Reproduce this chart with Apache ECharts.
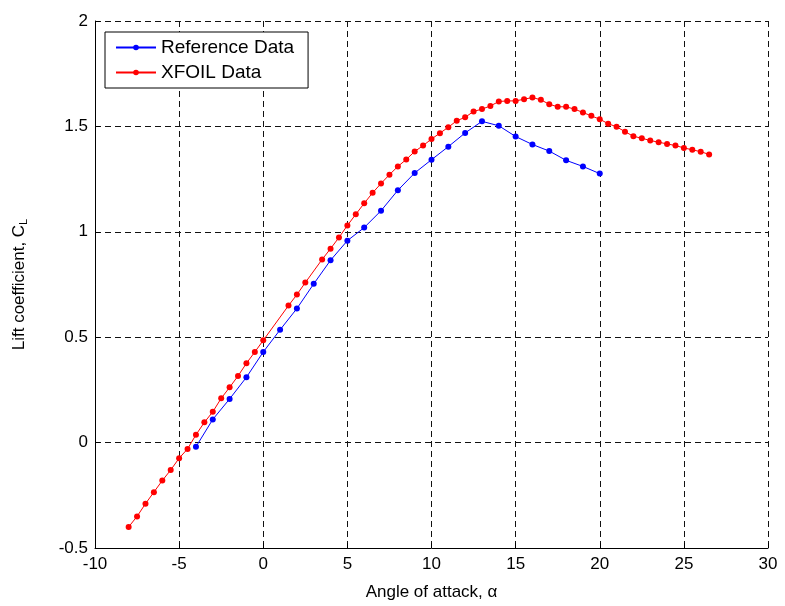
<!DOCTYPE html>
<html>
<head>
<meta charset="utf-8">
<script src="https://cdn.jsdelivr.net/npm/echarts@6/dist/echarts.min.js"></script>
<style>
  html, body { margin: 0; padding: 0; background: #fff; }
  #chart { width: 785px; height: 606px; }
</style>
</head>
<body>
<div id="chart"></div>
<script>
// Reference data (blue), every 1 degree
const refAlpha = [-4, -3, -2, -1, 0, 1, 2, 3, 4, 5, 6, 7, 8, 9, 10, 11, 12, 13, 14, 15, 16, 17, 18, 19, 20];
const refCl = [-0.02, 0.11, 0.207, 0.31, 0.43, 0.535, 0.636, 0.753, 0.865, 0.958, 1.02, 1.10, 1.197, 1.279, 1.342,
    1.404, 1.469, 1.524, 1.503, 1.452, 1.414, 1.383, 1.339, 1.31, 1.276];

// XFOIL data (red), half degree steps with a few missing points
const xfoilAlpha = [-8, -7.5, -7, -6.5, -6, -5.5, -5, -4.5, -4, -3.5, -3, -2.5, -2, -1.5, -1, -0.5, 0,
    1.5, 2, 2.5, 3.5, 4, 4.5, 5, 5.5, 6, 6.5, 7, 7.5, 8, 8.5, 9, 9.5, 10, 10.5, 11, 11.5, 12, 12.5, 13, 13.5,
    14, 14.5, 15, 15.5, 16, 16.5, 17, 17.5, 18, 18.5, 19, 19.5, 20, 20.5, 21, 21.5, 22, 22.5, 23, 23.5,
    24, 24.5, 25, 25.5, 26, 26.5];
const xfoilCl = [-0.40, -0.35, -0.29, -0.235, -0.18, -0.13, -0.074, -0.03, 0.037, 0.096, 0.146, 0.21, 0.262, 0.316, 0.376, 0.43, 0.485,
    0.65, 0.702, 0.759, 0.869, 0.92, 0.973, 1.03, 1.083, 1.135, 1.185, 1.229, 1.271, 1.31, 1.343, 1.381, 1.409, 1.44, 1.468, 1.496, 1.527, 1.543, 1.571, 1.582, 1.597,
    1.618, 1.621, 1.621, 1.629, 1.637, 1.626, 1.605, 1.593, 1.593, 1.582, 1.566, 1.55, 1.534, 1.513, 1.498, 1.475, 1.453, 1.444, 1.433, 1.425,
    1.417, 1.409, 1.398, 1.389, 1.38, 1.367];

const xTicks = { min: -10, max: 30, interval: 5 };
const yTicks = { min: -0.5, max: 2, interval: 0.5 };

const font = 'Liberation Sans';

const chart = echarts.init(document.getElementById('chart'));

// dashed black grid like the matlab figure
const gridLine = { show: true, lineStyle: { color: '#111', type: [6, 4], width: 1 } };

chart.setOption({
    animation: false,
    backgroundColor: '#fff',
    grid: { left: 95, right: 17, top: 21, bottom: 54 },
    legend: {
        left: 105,
        top: 32,
        orient: 'vertical',
        backgroundColor: '#fff',
        borderColor: '#000',
        borderWidth: 1,
        borderRadius: 0,
        padding: [6, 14, 6, 10],
        itemWidth: 40,
        itemHeight: 7,
        itemGap: 6,
        textStyle: { fontFamily: font, fontSize: 19, color: '#000' },
        data: ['Reference Data', 'XFOIL Data']
    },
    xAxis: {
        type: 'value',
        min: xTicks.min,
        max: xTicks.max,
        interval: xTicks.interval,
        name: 'Angle of attack, α',
        nameLocation: 'middle',
        nameGap: 36,
        nameTextStyle: { fontFamily: font, fontSize: 17, color: '#000' },
        axisLine: { onZero: false, lineStyle: { color: '#000', width: 1 } },
        axisTick: { inside: true, length: 5, lineStyle: { color: '#000' } },
        axisLabel: { fontFamily: font, fontSize: 17, color: '#000', margin: 8 },
        splitLine: gridLine
    },
    yAxis: {
        type: 'value',
        min: yTicks.min,
        max: yTicks.max,
        interval: yTicks.interval,
        name: 'Lift coefficient, C{sub|L}',
        nameLocation: 'middle',
        nameGap: 66,
        nameTextStyle: {
            fontFamily: font, fontSize: 17, color: '#000',
            rich: { sub: { fontFamily: font, fontSize: 11, color: '#000', verticalAlign: 'bottom', padding: [8, 0, 0, 0] } }
        },
        axisLine: { onZero: false, lineStyle: { color: '#000', width: 1 } },
        axisTick: { inside: true, length: 5, lineStyle: { color: '#000' } },
        axisLabel: { fontFamily: font, fontSize: 17, color: '#000', margin: 7 },
        splitLine: gridLine
    },
    series: [
        {
            name: 'Reference Data',
            type: 'line',
            data: refAlpha.map((a, i) => [a, refCl[i]]),
            symbol: 'circle',
            symbolSize: 6,
            lineStyle: { color: '#0000ff', width: 1 },
            itemStyle: { color: '#0000ff' },
            z: 3
        },
        {
            name: 'XFOIL Data',
            type: 'line',
            data: xfoilAlpha.map((a, i) => [a, xfoilCl[i]]),
            symbol: 'circle',
            symbolSize: 6,
            lineStyle: { color: '#ff0000', width: 1 },
            itemStyle: { color: '#ff0000' },
            z: 4
        }
    ]
});
</script>
</body>
</html>
